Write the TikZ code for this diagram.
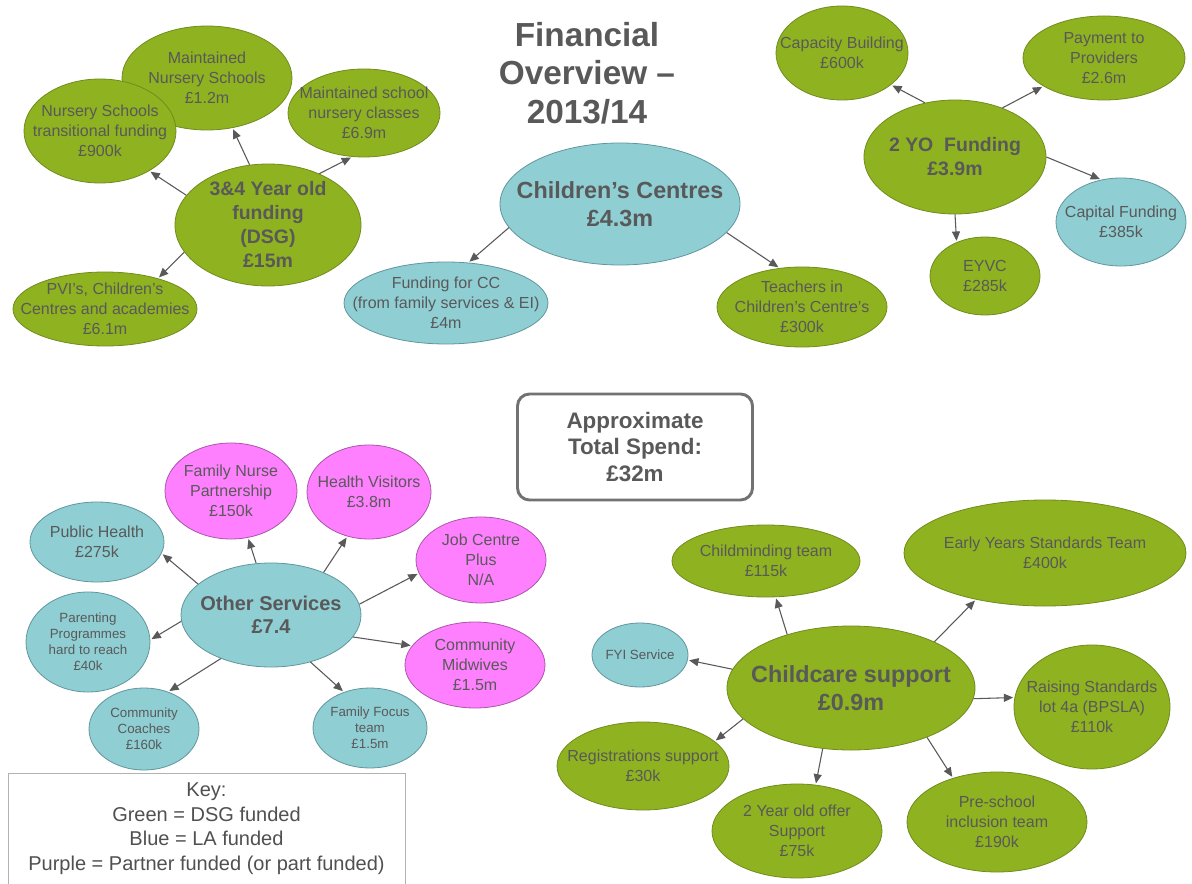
\documentclass[tikz,border=0pt]{standalone}
\usepackage{fontspec}
\setmainfont{Liberation Sans}
\usetikzlibrary{shapes.geometric,arrows.meta}

\definecolor{dsggreen}{RGB}{143,178,32}
\definecolor{dsgedge}{RGB}{112,140,28}
\definecolor{lablue}{RGB}{143,206,211}
\definecolor{laedge}{RGB}{96,150,158}
\definecolor{partpink}{RGB}{255,128,255}
\definecolor{partedge}{RGB}{170,85,170}
\definecolor{inkgray}{RGB}{89,89,89}

\tikzset{
  fund/.style={ellipse, draw, line width=0.6pt, inner sep=0pt},
  dsgfund/.style={fund, fill=dsggreen, draw=dsgedge},
  lafund/.style={fund, fill=lablue, draw=laedge},
  partfund/.style={fund, fill=partpink, draw=partedge},
  sz/.style 2 args={minimum width=#1*0.75pt, minimum height=#2*0.75pt},
  every label/.style={align=center, text=inkgray, inner sep=0pt, font=\fontsize{12}{15}\selectfont},
  hub/.style 2 args={font=\bfseries\fontsize{#1}{#2}\selectfont},
  small/.style={font=\fontsize{10}{12}\selectfont},
  flow/.style={draw=inkgray, line width=0.8pt, -{Triangle[length=7pt,width=6pt]}, shorten >=1pt}
}

\begin{document}
\begin{tikzpicture}[x=0.75pt, y=-0.75pt]
    \useasboundingbox[fill=white] (0,0) rectangle (1192,884);

    % title
    \node[font=\bfseries\fontsize{25}{29}\selectfont, text=inkgray, align=center] (title) at (587,73) {Financial\\Overview --\\2013/14};

    % 3&4 year old funding
    \node[dsgfund, sz={170}{104}, label={center:Maintained\\Nursery Schools\\£1.2m}] (mns) at (207,78) {};
    \node[dsgfund, sz={152}{104}, label={center:Nursery Schools\\transitional funding\\£900k}] (nst) at (100,131) {};
    \node[dsgfund, sz={152}{88}, label={center:Maintained school\\nursery classes\\£6.9m}] (msc) at (364,113) {};
    \node[dsgfund, sz={186}{122}, label={[hub={14.6}{18}]center:3\&4 Year old\\funding\\(DSG)\\£15m}] (dsg) at (268,225) {};
    \node[dsgfund, sz={184}{74}, label={center:PVI’s, Children’s\\Centres and academies\\£6.1m}] (pvi) at (105,309) {};

    \draw[flow] (dsg.107) -- (mns.297);
    \draw[flow] (dsg.160) -- (nst.321);
    \draw[flow] (dsg.45) -- (msc.255);
    \draw[flow] (dsg.198) -- (pvi.30);

    % children's centres
    \node[lafund, sz={240}{122}, label={[hub={17.5}{21}]center:Children’s Centres\\£4.3m}] (cc) at (620,204) {};
    \node[lafund, sz={204}{82}, label={center:Funding for CC\\(from family services \& EI)\\£4m}] (fcc) at (446,303) {};
    \node[dsgfund, sz={170}{80}, label={center:Teachers in\\Children’s Centre’s\\£300k}] (tcc) at (802,307) {};

    \draw[flow] (cc.192) -- (fcc.61);
    \draw[flow] (cc.345) -- (tcc.120);

    % 2 year olds
    \node[dsgfund, sz={132}{94}, label={center:Capacity Building\\£600k}] (cap) at (842,53) {};
    \node[dsgfund, sz={162}{84}, label={center:Payment to\\Providers\\£2.6m}] (pay) at (1104,58) {};
    \node[dsgfund, sz={182}{114}, label={[hub={14.6}{18}]center:2 YO\ \ Funding\\£3.9m}] (two) at (955,157) {};
    \node[lafund, sz={130}{88}, label={center:Capital Funding\\£385k}] (capf) at (1121,222) {};
    \node[dsgfund, sz={110}{78}, label={center:EYVC\\£285k}] (eyvc) at (985,276) {};

    \draw[flow] (two.119) -- (cap.327);
    \draw[flow] (two.46) -- (pay.205);
    \draw[flow] (two.0) -- (capf.115);
    \draw[flow] (two.270) -- (eyvc.130);

    % total
    \node[draw=inkgray!85, line width=2.2pt, rounded corners=9pt, sz={235}{106}, align=center, text=inkgray, font=\bfseries\fontsize{16.8}{20}\selectfont] (total) at (635,447) {Approximate\\Total Spend:\\£32m};

    % other services
    \node[lafund, sz={180}{104}, label={[hub={15}{17.5}]center:Other Services\\£7.4}] (os) at (271,615) {};
    \node[partfund, sz={132}{96}, label={center:Family Nurse\\Partnership\\£150k}] (fnp) at (231,491) {};
    \node[partfund, sz={124}{94}, label={center:Health Visitors\\£3.8m}] (hv) at (369,492) {};
    \node[lafund, sz={134}{80}, label={center:Public Health\\£275k}] (ph) at (97,542) {};
    \node[partfund, sz={130}{86}, label={center:Job Centre\\Plus\\N/A}] (jcp) at (481,560) {};
    \node[lafund, sz={124}{100}, label={[small]center:Parenting\\Programmes\\hard to reach\\£40k}] (pp) at (88,642) {};
    \node[partfund, sz={140}{86}, label={center:Community\\Midwives\\£1.5m}] (cmw) at (475,665) {};
    \node[lafund, sz={110}{82}, label={[small]center:Community\\Coaches\\£160k}] (coach) at (144,729) {};
    \node[lafund, sz={114}{80}, label={[small]center:Family Focus\\team\\£1.5m}] (ff) at (370,728) {};

    \draw[flow] (os.106) -- (fnp.290);
    \draw[flow] (os.39) -- (hv.244);
    \draw[flow] (os.157) -- (ph.350);
    \draw[flow] (os.7) -- (jcp.192);
    \draw[flow] (os.184) -- (pp.2);
    \draw[flow] (os.345) -- (cmw.163);
    \draw[flow] (os.221) -- (coach.57);
    \draw[flow] (os.310) -- (ff.126);

    % childcare support
    \node[dsgfund, sz={248}{124}, label={[hub={17.5}{21}]center:Childcare support\\£0.9m}] (cs) at (851,688) {};
    \node[dsgfund, sz={188}{72}, label={center:Childminding team\\£115k}] (cmt) at (766,561) {};
    \node[dsgfund, sz={282}{106}, label={center:Early Years Standards Team\\£400k}] (eys) at (1045,553) {};
    \node[lafund, sz={96}{64}, label={[small]center:FYI Service}] (fyi) at (640,655) {};
    \node[dsgfund, sz={156}{124}, label={center:Raising Standards\\lot 4a (BPSLA)\\£110k}] (rs) at (1092,707) {};
    \node[dsgfund, sz={172}{88}, label={center:Registrations support\\£30k}] (reg) at (643,766) {};
    \node[dsgfund, sz={170}{94}, label={center:2 Year old offer\\Support\\£75k}] (tyo) at (797,831) {};
    \node[dsgfund, sz={180}{100}, label={center:Pre-school\\inclusion team\\£190k}] (psi) at (997,822) {};

    \draw[flow] (cs.140) -- (cmt.285);
    \draw[flow] (cs.29) -- (eys.214);
    \draw[flow] (cs.171) -- (fyi.354);
    \draw[flow] (cs.355) -- (rs.173);
    \draw[flow] (cs.196) -- (reg.19);
    \draw[flow] (cs.245) -- (tyo.68);
    \draw[flow] (cs.327) -- (psi.135);

    % key
    \node[draw=gray!60, line width=0.6pt, sz={397}{111}, align=center, text=inkgray!90!black, font=\fontsize{15}{18.4}\selectfont] (key) at (206.5,828.5) {Key:\\Green = DSG funded\\Blue = LA funded\\Purple = Partner funded (or part funded)};

\end{tikzpicture}
\end{document}
